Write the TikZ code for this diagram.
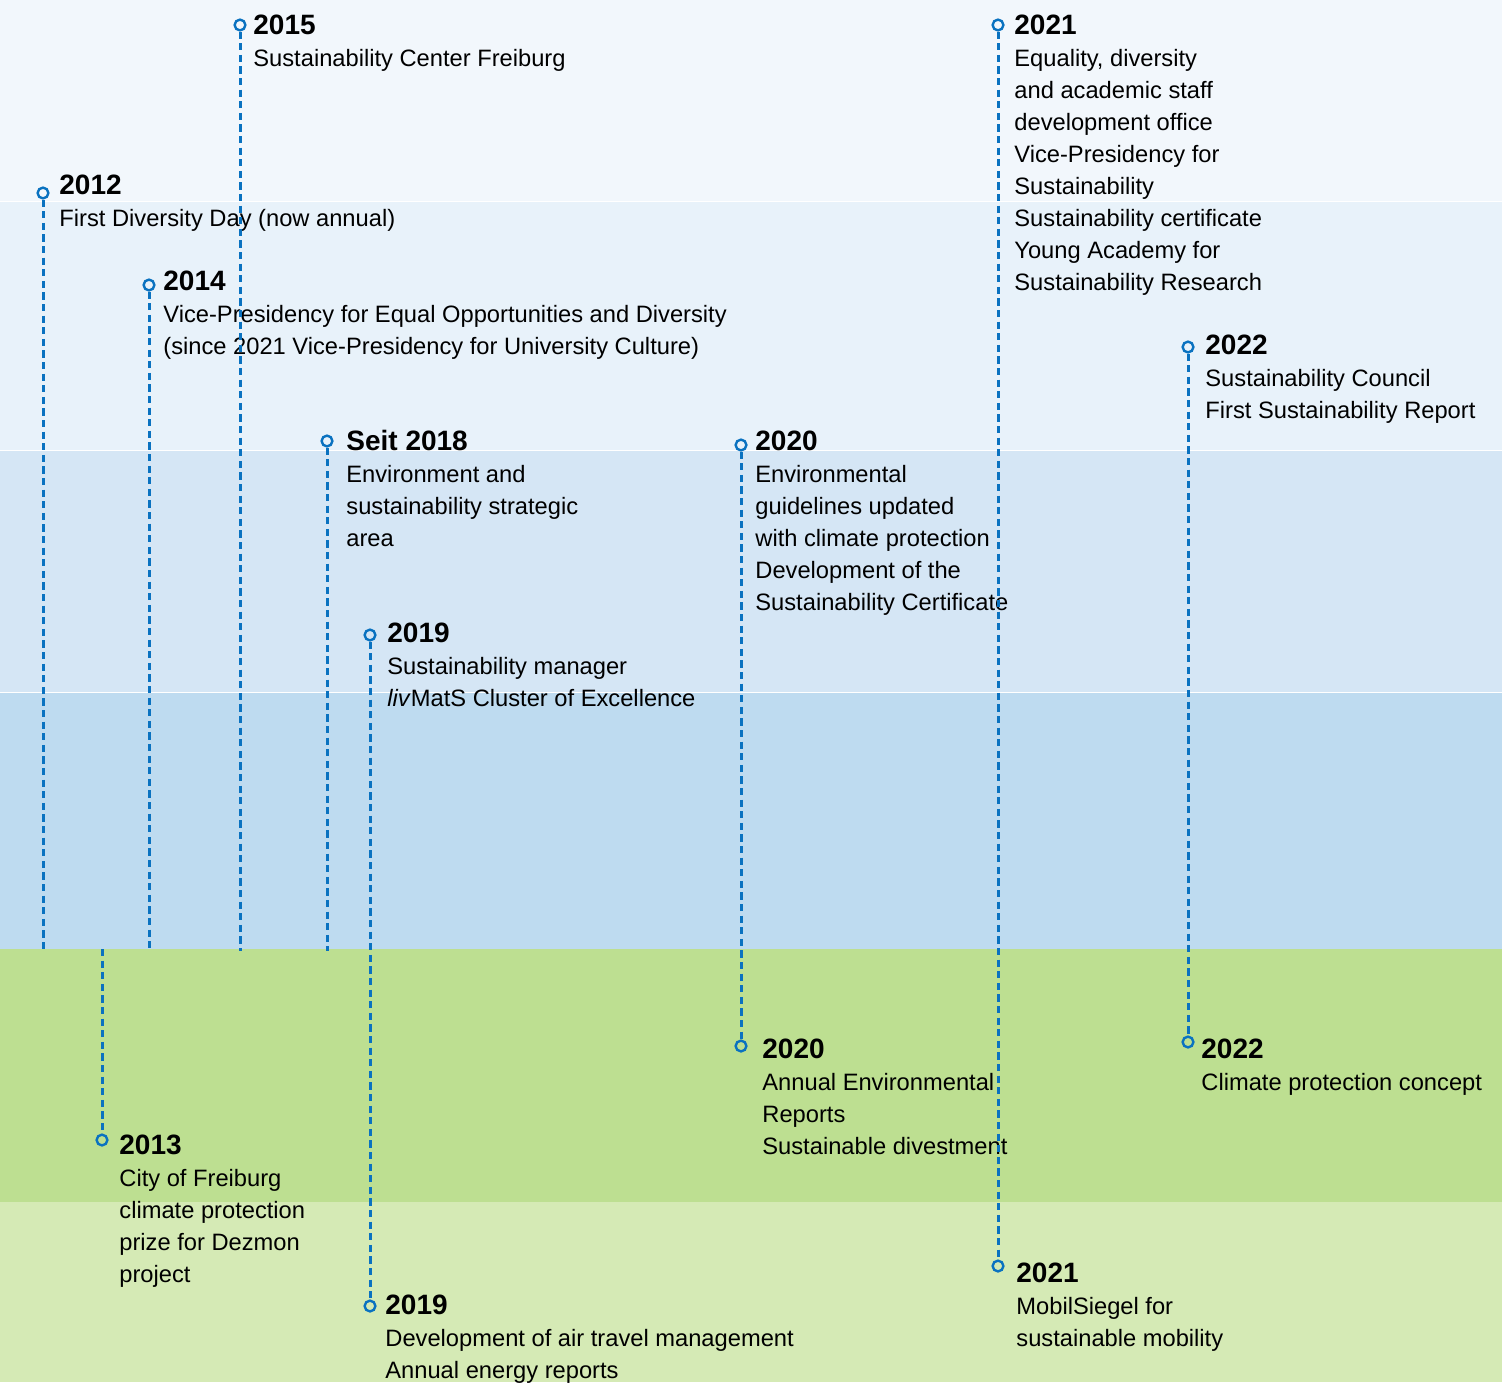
\documentclass[tikz,border=0pt]{standalone}
\usepackage{fontspec}
\setmainfont{Liberation Sans}
\definecolor{lineblue}{HTML}{0A72C0}
\definecolor{bandA}{HTML}{F2F7FC}
\definecolor{bandB}{HTML}{E8F2FA}
\definecolor{bandC}{HTML}{D5E6F5}
\definecolor{bandD}{HTML}{BEDBF0}
\definecolor{bandE}{HTML}{BDDF91}
\definecolor{bandF}{HTML}{D5EAB5}
\newcommand{\tlentry}[2]{\vtop{\baselineskip=16pt\lineskiplimit=-30pt\hbox{\fontsize{14}{16}\selectfont\bfseries #1}#2}}
\newcommand{\tline}[1]{\hbox{#1}}
\begin{document}
\begin{tikzpicture}[x=0.5pt,y=-0.5pt,
  mk/.style={circle,draw=lineblue,line width=1.2pt,minimum size=5.4pt,inner sep=0pt},
  tl/.style={draw=lineblue,line width=1.5pt,dash pattern=on 3.6pt off 2.2pt},
  entry/.style={anchor=base west,inner sep=0pt,font=\fontsize{11.85}{16}\selectfont}]
\useasboundingbox (0,0) rectangle (1502,1382);
% bands
\fill[bandA] (0,0) rectangle (1502,201);
\fill[bandB] (0,201) rectangle (1502,450);
\fill[bandC] (0,450) rectangle (1502,692);
\fill[bandD] (0,692) rectangle (1502,949);
\fill[bandE] (0,949) rectangle (1502,1202);
\fill[bandF] (0,1202) rectangle (1502,1382);
\draw[white,line width=0.5pt] (0,201) -- (1502,201) (0,450) -- (1502,450) (0,692) -- (1502,692);
% texts (top)
\node[entry] (x2015) at (253,34) {\tlentry{2015}{\tline{Sustainability Center Freiburg}}};
\node[entry] (x2021) at (1014,34) {\tlentry{2021}{\tline{Equality, diversity}\tline{and academic staff}\tline{development office}\tline{Vice-Presidency for}\tline{Sustainability}\tline{Sustainability certificate}\tline{Young Academy for}\tline{Sustainability Research}}};
\node[entry] (x2012) at (59,194) {\tlentry{2012}{\tline{First Diversity Day (now annual)}}};
\node[entry] (x2014) at (163,290) {\tlentry{2014}{\tline{Vice-Presidency for Equal Opportunities and Diversity}\tline{(since 2021 Vice-Presidency for University Culture)}}};
\node[entry] (x2022) at (1205,354) {\tlentry{2022}{\tline{Sustainability Council}\tline{First Sustainability Report}}};
\node[entry] (x2018) at (346,450) {\tlentry{Seit 2018}{\tline{Environment and}\tline{sustainability strategic}\tline{area}}};
\node[entry] (x2020) at (755,450) {\tlentry{2020}{\tline{Environmental}\tline{guidelines updated}\tline{with climate protection}\tline{Development of the}\tline{Sustainability Certificate}}};
\node[entry] (x2019) at (387,642) {\tlentry{2019}{\tline{Sustainability manager}\tline{\textit{liv}MatS Cluster of Excellence}}};
% texts (bottom)
\node[entry] (y2020) at (762,1058) {\tlentry{2020}{\tline{Annual Environmental}\tline{Reports}\tline{Sustainable divestment}}};
\node[entry] (y2022) at (1201,1058) {\tlentry{2022}{\tline{Climate protection concept}}};
\node[entry] (y2013) at (119,1154) {\tlentry{2013}{\tline{City of Freiburg}\tline{climate protection}\tline{prize for Dezmon}\tline{project}}};
\node[entry] (y2021) at (1016,1282) {\tlentry{2021}{\tline{MobilSiegel for}\tline{sustainable mobility}}};
\node[entry] (y2019) at (385,1314) {\tlentry{2019}{\tline{Development of air travel management}\tline{Annual energy reports}}};
% markers
\node[mk] (t2012) at (43,193) {};
\node[mk] (t2014) at (149,285) {};
\node[mk] (t2015) at (240,25) {};
\node[mk] (t2018) at (327,441) {};
\node[mk] (t2019) at (370,635) {};
\node[mk] (t2020) at (741,445) {};
\node[mk] (t2021) at (998,25) {};
\node[mk] (t2022) at (1188,347) {};
\node[mk] (b2013) at (102,1140) {};
\node[mk] (b2019) at (370,1306) {};
\node[mk] (b2020) at (741,1046) {};
\node[mk] (b2021) at (998,1266) {};
\node[mk] (b2022) at (1188,1042) {};
\coordinate (e2012) at (43,951);
\coordinate (e2014) at (149,951);
\coordinate (e2015) at (240,951);
\coordinate (e2018) at (327,951);
\coordinate (s2013) at (102,949);
% connectors
\draw[tl] (t2012) -- (e2012);
\draw[tl] (t2014) -- (e2014);
\draw[tl] (t2015) -- (e2015);
\draw[tl] (t2018) -- (e2018);
\draw[tl] (s2013) -- (b2013);
\draw[tl] (t2019) -- (b2019);
\draw[tl] (t2020) -- (b2020);
\draw[tl] (t2021) -- (b2021);
\draw[tl] (t2022) -- (b2022);
\end{tikzpicture}
\end{document}
